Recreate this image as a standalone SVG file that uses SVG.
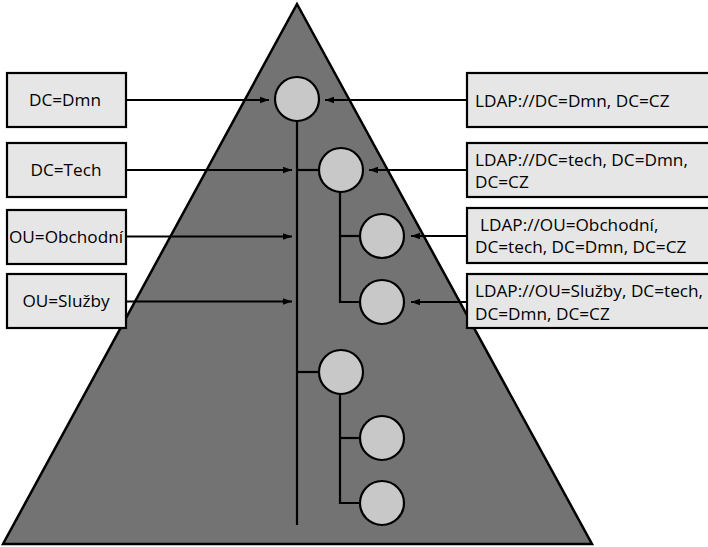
<svg xmlns="http://www.w3.org/2000/svg" width="708" height="547" viewBox="0 0 708 547">
<defs>
<marker id="ah" markerWidth="10" markerHeight="8" refX="9" refY="4" orient="auto" markerUnits="userSpaceOnUse">
<path d="M0,0.8 L9,4 L0,7.2 Z" fill="#000"/>
</marker>
<style>
.box{fill:#e6e6e6;stroke:#000;stroke-width:2.2}
.node{fill:#c8c8c8;stroke:#000;stroke-width:2.2}
.ln{fill:none;stroke:#000;stroke-width:2.2}
.ar{fill:none;stroke:#000;stroke-width:2;marker-end:url(#ah)}
text{font-family:"Open Sans","Noto Sans",sans-serif;font-size:17.2px;fill:#000}
</style>
</defs>
<rect width="708" height="547" fill="#fff"/>
<g id="pyramid">
<polygon points="297,4 3,544 592,544" fill="#737373" stroke="#000" stroke-width="2.5" stroke-linejoin="miter"/>
</g>
<g id="connectors">
<path class="ln" d="M297,121 V525"/>
<path class="ln" d="M297,170 H319"/>
<path class="ln" d="M340,192 V302 H360"/>
<path class="ln" d="M340,236 H360"/>
<path class="ln" d="M297,372 H319"/>
<path class="ln" d="M340,394 V503 H360"/>
<path class="ln" d="M340,438 H360"/>
<path class="ar" d="M126,100 H269"/>
<path class="ar" d="M126,170 H292"/>
<path class="ar" d="M126,236.5 H292"/>
<path class="ar" d="M126,301.5 H292"/>
<path class="ar" d="M467,100 H325"/>
<path class="ar" d="M467,170 H369"/>
<path class="ar" d="M467,236 H411"/>
<path class="ar" d="M467,302 H411"/>
</g>
<g id="n-dmn"><circle class="node" cx="297" cy="99" r="22"/></g>
<g id="n-tech"><circle class="node" cx="341" cy="170" r="22"/></g>
<g id="n-obchodni"><circle class="node" cx="382" cy="236" r="22"/></g>
<g id="n-sluzby"><circle class="node" cx="382" cy="302" r="22"/></g>
<g id="n-b"><circle class="node" cx="341" cy="372" r="22"/></g>
<g id="n-b1"><circle class="node" cx="382" cy="438" r="22"/></g>
<g id="n-b2"><circle class="node" cx="382" cy="503" r="22"/></g>
<g id="l-dmn"><rect class="box" x="7" y="73" width="119" height="54"/><text x="65" y="106" text-anchor="middle">DC=Dmn</text></g>
<g id="l-tech"><rect class="box" x="7" y="143" width="119" height="54"/><text x="66" y="176" text-anchor="middle">DC=Tech</text></g>
<g id="l-obchodni"><rect class="box" x="7" y="210" width="119" height="54"/><text x="66" y="243" text-anchor="middle">OU=Obchodní</text></g>
<g id="l-sluzby"><rect class="box" x="7" y="274" width="119" height="54"/><text x="66" y="307" text-anchor="middle">OU=Služby</text></g>
<g id="r-dmn"><rect class="box" x="467" y="73" width="250" height="54"/><text x="475" y="107">LDAP://DC=Dmn, DC=CZ</text></g>
<g id="r-tech"><rect class="box" x="467" y="143" width="250" height="54"/><text x="475" y="166">LDAP://DC=tech, DC=Dmn,</text><text x="475" y="188">DC=CZ</text></g>
<g id="r-obchodni"><rect class="box" x="467" y="208" width="250" height="55"/><text x="480" y="231">LDAP://OU=Obchodní,</text><text x="475" y="253">DC=tech, DC=Dmn, DC=CZ</text></g>
<g id="r-sluzby"><rect class="box" x="467" y="274" width="250" height="54"/><text x="475" y="297">LDAP://OU=Služby, DC=tech,</text><text x="475" y="320">DC=Dmn, DC=CZ</text></g>
</svg>
